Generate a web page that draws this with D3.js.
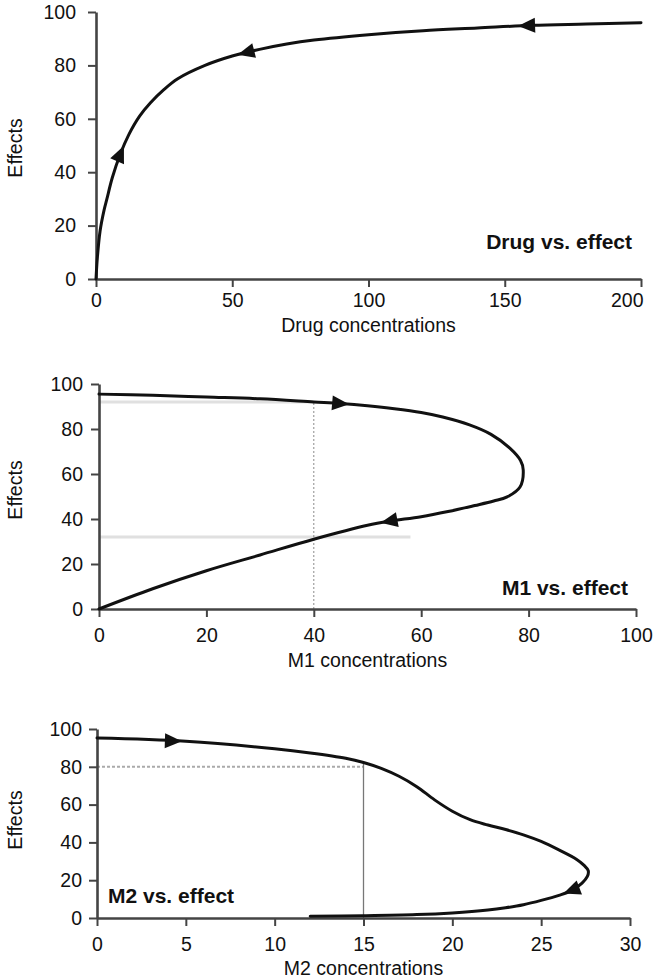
<!DOCTYPE html>
<html><head><meta charset="utf-8">
<script src="https://cdn.jsdelivr.net/npm/d3@7"></script>
<style>
body{margin:0;background:#fff}
text{font-family:"Liberation Sans",Arial,Helvetica,sans-serif;fill:#111}
</style></head>
<body><svg id="c" width="656" height="980"></svg>
<script>
// ---------- data ----------
const effectTicks = [0, 20, 40, 60, 80, 100];
const drugTicks = [0, 50, 100, 150, 200];
const m1Ticks = [0, 20, 40, 60, 80, 100];
const m2Ticks = [0, 5, 10, 15, 20, 25, 30];

const drugConc   = [0, 0.5, 1.5, 3, 4, 6, 9, 12, 16, 20, 25, 30, 40, 50, 60, 70, 80, 100, 120, 140, 160, 180, 200];
const drugEffect = [0, 8, 18, 26, 30, 38, 47, 54, 61, 66, 71, 75, 80, 83.5, 86, 88, 89.5, 91.5, 93, 94, 95, 95.5, 96];

const m1Conc   = [0, 10, 20, 30, 40, 45, 50, 55, 60, 64, 69, 73, 76.5, 78.5, 79, 78.4, 76, 73.5, 70, 65, 60, 54, 50, 40, 30, 20, 10, 0];
const m1Effect = [95.5, 95, 94.2, 93.4, 92, 91.3, 90.3, 89, 87.3, 85.3, 81.8, 77.6, 71.5, 66, 61.8, 54.2, 49.8, 48, 46, 43.3, 41, 39, 37.2, 31, 24, 17, 9, 0];

const m2Conc   = [0, 5, 10, 12, 14, 15, 16, 17, 18, 19, 20, 21, 22, 23, 24, 25, 26, 27, 27.4, 27.65, 27.6, 27.3, 26.7, 26, 25, 24, 23, 22, 20, 18, 15, 12];
const m2Effect = [95.2, 93.5, 89.5, 87.3, 84.5, 82.3, 79.2, 75, 69.5, 62.5, 56.5, 52, 49.2, 46.8, 44, 40.5, 36, 31, 28, 25, 22, 18.5, 14.5, 12, 9.3, 7, 5.4, 4.2, 2.7, 1.8, 1.2, 0.9];

// arrow heads: position and a point it points toward (data units)
const drugArrows = [{x: 9, y: 47, tx: 12, ty: 54}, {x: 55, y: 84.8, tx: 50, ty: 83.5}, {x: 158, y: 94.9, tx: 150, ty: 94.6}];
const m1Arrows = [{x: 45, y: 91.3, tx: 50, ty: 90.3}, {x: 54, y: 39, tx: 50, ty: 37.2}];
const m2Arrows = [{x: 4.3, y: 93.7, tx: 6, ty: 93.2}, {x: 26.7, y: 14.5, tx: 26, ty: 12}];

// reference guide lines (data units)
const m1Guides = [
  {x1: 0, y1: 92, x2: 40, y2: 92, kind: "light"},
  {x1: 0, y1: 32, x2: 58, y2: 32, kind: "light"},
  {x1: 40, y1: 0, x2: 40, y2: 92, kind: "dot"}
];
const m2Guides = [
  {x1: 0, y1: 80, x2: 15, y2: 80, kind: "dash"},
  {x1: 15, y1: 0, x2: 15, y2: 82.3, kind: "solid"}
];

// ---------- layout ----------
const svg = d3.select("#c");
const panels = [
  {xs: drugConc, ys: drugEffect, xTicks: drugTicks, xDomain: [0, 200], px: [96, 641], py: [279, 12],
   xPad: 6, yPad: 12, xTitle: "Drug concentrations", xTitleY: 332, yTitleY: 148, lastEnd: true,
   label: "Drug vs. effect", labelX: 632, labelY: 249, labelAnchor: "end", arrows: drugArrows, guides: []},
  {xs: m1Conc, ys: m1Effect, xTicks: m1Ticks, xDomain: [0, 100], px: [99, 636], py: [609, 384],
   xPad: 11, yPad: 8, xTitle: "M1 concentrations", xTitleY: 667, yTitleY: 490, lastEnd: false,
   label: "M1 vs. effect", labelX: 628, labelY: 595, labelAnchor: "end", arrows: m1Arrows, guides: m1Guides},
  {xs: m2Conc, ys: m2Effect, xTicks: m2Ticks, xDomain: [0, 30], px: [97, 630], py: [918, 729],
   xPad: 11, yPad: 7, xTitle: "M2 concentrations", xTitleY: 975, yTitleY: 820, lastEnd: false,
   label: "M2 vs. effect", labelX: 108, labelY: 903, labelAnchor: "start", arrows: m2Arrows, guides: m2Guides}
];

panels.forEach(p => {
  const x = d3.scaleLinear().domain(p.xDomain).range(p.px);
  const y = d3.scaleLinear().domain([0, 100]).range(p.py);
  const g = svg.append("g");

  // guides
  p.guides.forEach(d => {
    const l = g.append("line")
      .attr("x1", x(d.x1)).attr("y1", y(d.y1)).attr("x2", x(d.x2)).attr("y2", y(d.y2));
    if (d.kind === "light") l.attr("stroke", "#e0e0e0").attr("stroke-width", 3);
    else if (d.kind === "dot") l.attr("stroke", "#8a8a8a").attr("stroke-width", 1).attr("stroke-dasharray", "2,2");
    else if (d.kind === "dash") l.attr("stroke", "#aaaaaa").attr("stroke-width", 2).attr("stroke-dasharray", "3,2");
    else l.attr("stroke", "#777").attr("stroke-width", 1.3);
  });

  // axes
  const xa = g.append("g").attr("transform", `translate(0,${p.py[0]})`)
    .call(d3.axisBottom(x).tickValues(p.xTicks).tickSize(8).tickSizeOuter(0).tickPadding(p.xPad));
  const ya = g.append("g").attr("transform", `translate(${p.px[0]},0)`)
    .call(d3.axisLeft(y).tickValues(effectTicks).tickSize(8).tickSizeOuter(0).tickPadding(p.yPad));
  [xa, ya].forEach(a => {
    a.select(".domain").attr("stroke", "#444").attr("stroke-width", 2.6);
    a.selectAll(".tick line").attr("stroke", "#444").attr("stroke-width", 2);
    a.selectAll(".tick text").attr("font-size", 19.5).attr("fill", "#111")
      .style("font-family", '"Liberation Sans",Arial,sans-serif');
  });
  if (p.lastEnd) {
    xa.selectAll(".tick text").filter((d, i, n) => i === n.length - 1)
      .attr("text-anchor", "end").attr("x", 2);
  }

  // curve
  const pts = p.xs.map((v, i) => [v, p.ys[i]]);
  g.append("path").datum(pts)
    .attr("fill", "none").attr("stroke", "#111").attr("stroke-width", 3)
    .attr("stroke-linejoin", "round").attr("stroke-linecap", "round")
    .attr("d", d3.line().x(d => x(d[0])).y(d => y(d[1])).curve(d3.curveCatmullRom.alpha(0.5)));

  // arrows
  p.arrows.forEach(a => {
    const cx = x(a.x), cy = y(a.y);
    const ang = Math.atan2(y(a.ty) - cy, x(a.tx) - cx);
    const L = 17, W = 7.5;
    const tip = [cx + Math.cos(ang) * L / 2, cy + Math.sin(ang) * L / 2];
    const bx = cx - Math.cos(ang) * L / 2, by = cy - Math.sin(ang) * L / 2;
    const b1 = [bx - Math.sin(ang) * W, by + Math.cos(ang) * W];
    const b2 = [bx + Math.sin(ang) * W, by - Math.cos(ang) * W];
    g.append("path").attr("d", `M${tip}L${b1}L${b2}Z`).attr("fill", "#111");
  });

  // titles
  g.append("text").attr("x", (p.px[0] + p.px[1]) / 2).attr("y", p.xTitleY)
    .attr("text-anchor", "middle").attr("font-size", 19.5).text(p.xTitle);
  g.append("text").attr("transform", `translate(22,${p.yTitleY}) rotate(-90)`)
    .attr("text-anchor", "middle").attr("font-size", 19.5).text("Effects");
  g.append("text").attr("x", p.labelX).attr("y", p.labelY).attr("text-anchor", p.labelAnchor)
    .attr("font-size", 21).attr("font-weight", "bold").text(p.label);
});
</script></body></html>
